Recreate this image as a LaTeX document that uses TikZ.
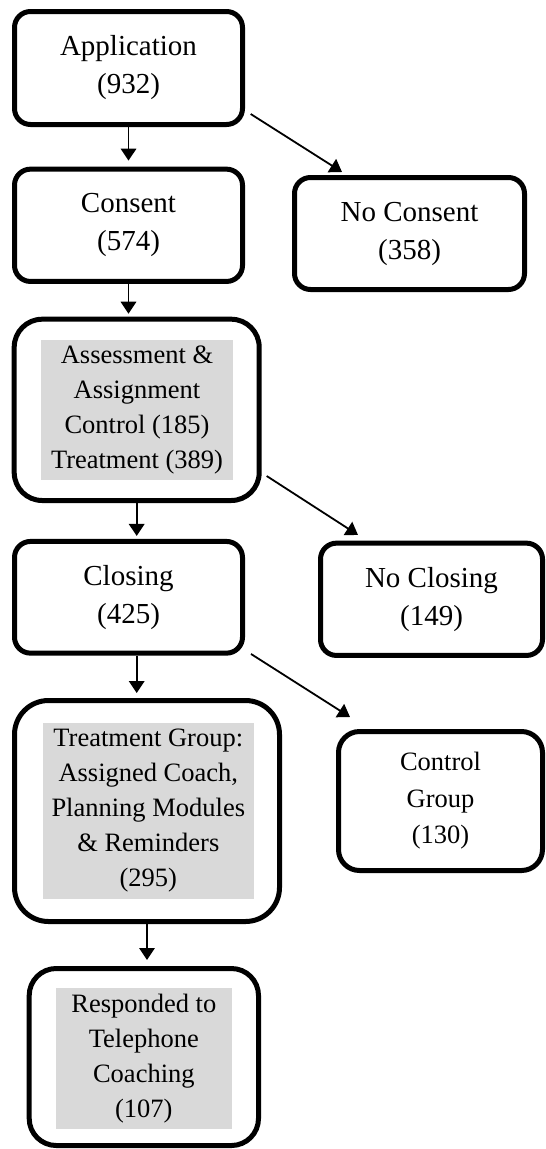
\documentclass[tikz,border=0pt]{standalone}
\usepackage{fontspec}
\setmainfont{Liberation Serif}
\usetikzlibrary{arrows.meta,calc}
\definecolor{shade}{RGB}{217,217,217}
\begin{document}
\begin{tikzpicture}[x=1pt,y=-1pt,
  wbox/.style={draw, line width=5pt, rounded corners=16pt, inner sep=0pt, align=center,
    font=\fontsize{29}{38}\selectfont},
  obox/.style={draw, line width=5pt, inner sep=0pt},
  gbox/.style={fill=shade, inner sep=0pt, align=center, font=\fontsize{26.5}{35}\selectfont},
  arr/.style={line width=1.8pt, -{Triangle[width=15.5pt,length=12pt]}}]
\useasboundingbox (0,0) rectangle (546,1149);

\node[wbox, minimum width=228pt, minimum height=113pt] (app) at (128.5,68) {Application\\(932)};
\node[wbox, minimum width=228pt, minimum height=112.3pt] (consent) at (128.5,225.3) {Consent\\(574)};
\node[wbox, minimum width=230pt, minimum height=112pt] (nocons) at (409.5,233.5) {No Consent\\(358)};
\node[obox, rounded corners=28pt, minimum width=245pt, minimum height=181.3pt] (assess) at (136.7,409.85) {};
\node[gbox, minimum width=192.6pt, minimum height=140pt] (assessT) at (137,410) {Assessment \&\\Assignment\\Control (185)\\Treatment (389)};
\node[wbox, minimum width=228pt, minimum height=111.7pt] (closing) at (128.5,597.3) {Closing\\(425)};
\node[wbox, minimum width=222pt, minimum height=112.3pt] (noclose) at (431.5,599.3) {No Closing\\(149)};
\node[obox, rounded corners=34pt, minimum width=265pt, minimum height=221pt] (treat) at (147,811) {};
\node[gbox, minimum width=211.3pt, minimum height=176.3pt] (treatT) at (148.3,810.8) {Treatment Group:\\Assigned Coach,\\Planning Modules\\\& Reminders\\(295)};
\node[wbox, rounded corners=21pt, font=\fontsize{26.5}{36.5}\selectfont, minimum width=204pt, minimum height=139pt] (control) at (440.5,801) {Control\\Group\\(130)};
\node[obox, rounded corners=27pt, minimum width=229.3pt, minimum height=177pt] (resp) at (143.85,1057) {};
\node[gbox, minimum width=175.7pt, minimum height=141pt] (respT) at (143.85,1058.5) {Responded to\\Telephone\\Coaching\\(107)};

\draw[arr, shorten >=6pt] (app.south) -- (consent.north);
\draw[arr, shorten >=3pt] (consent.south) -- (consent.south |- assess.north);
\draw[arr, shorten >=3pt] (assess.south) -- (assess.south |- closing.north);
\draw[arr, shorten >=5pt] (closing.south -| assess.south) -- (treat.north -| assess.south);
\draw[arr, shorten >=6pt] (treat.south) -- (treat.south |- resp.north);

\coordinate (d1s) at ($(app.south east)+(5.7,-13)$);
\coordinate (d1e) at ($(nocons.north west)+(50,-3)$);
\coordinate (d2s) at ($(assess.south east)+(5,-27)$);
\coordinate (d2e) at ($(noclose.north west)+(40,-5.7)$);
\coordinate (d3s) at ($(closing.south east)+(6,-1.7)$);
\coordinate (d3e) at ($(control.north west)+(14,-12)$);
\draw[arr] (d1s) -- (d1e);
\draw[arr] (d2s) -- (d2e);
\draw[arr] (d3s) -- (d3e);
\end{tikzpicture}
\end{document}
